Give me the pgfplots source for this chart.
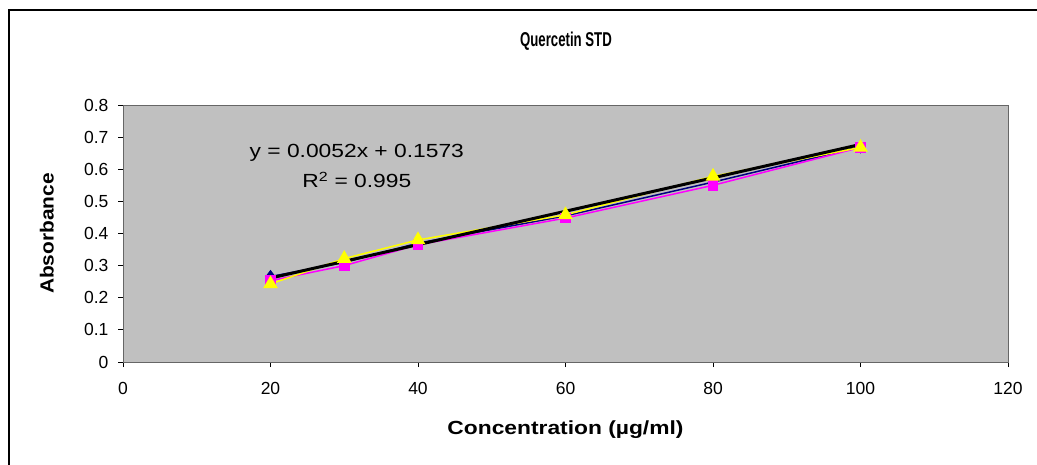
\documentclass[border=0pt]{standalone}
\usepackage{fontspec}
\setmainfont{Liberation Sans}
\usepackage{graphicx}
\usepackage{pgfplots}
\pgfplotsset{compat=1.18}
\definecolor{plotgray}{RGB}{192,192,192}
\definecolor{navyblue}{RGB}{0,0,128}
\definecolor{pinkmag}{RGB}{255,0,255}
\definecolor{yel}{RGB}{255,255,0}
\begin{document}
\begin{tikzpicture}[x=1pt,y=1pt]
\useasboundingbox (0,0) rectangle (1037,464);
\begin{scope}
\clip (0,0) rectangle (1037,464);
\fill[white] (0,0) rectangle (1037,464);
\draw[line width=2pt] (9,-20) rectangle (1060,454);
\end{scope}
\node[font=\bfseries\fontsize{20}{22}\selectfont] at (566,423) {\scalebox{0.66}[1]{Quercetin STD}};
\begin{axis}[at={(123pt,102pt)}, anchor=south west, scale only axis,
  width=885pt, height=257pt,
  xmin=0, xmax=120, ymin=0, ymax=0.8,
  xtick={0,20,40,60,80,100,120},
  ytick={0,0.1,0.2,0.3,0.4,0.5,0.6,0.7,0.8},
  yticklabels={0,0.1,0.2,0.3,0.4,0.5,0.6,0.7,0.8},
  axis background/.style={fill=plotgray},
  axis line style={draw=gray!80!black, line width=1pt},
  tick align=outside, xtick pos=bottom, ytick pos=left,
  major tick length=5pt,
  tick style={black, line width=0.8pt},
  /pgf/number format/assume math mode=true,
  ticklabel style={font=\fontsize{17.5}{20}\selectfont},
  xticklabel style={yshift=-12pt},
  yticklabel style={xshift=-6pt},
  xlabel={\scalebox{1.2}[1]{Concentration (µg/ml)}},
  ylabel={\scalebox{1.1}[1]{Absorbance}},
  label style={font=\bfseries\fontsize{19}{21}\selectfont},
  xlabel style={at={(axis description cs:0.5,-0.265)}, anchor=center},
  ylabel style={at={(axis description cs:-0.086,0.5)}, anchor=center},
  clip=false,
]
\addplot[navyblue, line width=1.5pt, mark=diamond*, mark size=5.5pt, mark options={fill=navyblue}]
  coordinates {(20,0.266)(30,0.31)(40,0.37)(60,0.455)(80,0.56)(100,0.67)};
\addplot[pinkmag, line width=1.5pt, mark=square*, mark size=4.5pt, mark options={fill=pinkmag}]
  coordinates {(20,0.253)(30,0.30)(40,0.365)(60,0.448)(80,0.55)(100,0.668)};
\addplot[yel, line width=1.5pt, mark=triangle*, mark size=7pt, mark options={fill=yel}]
  coordinates {(20,0.243)(30,0.322)(40,0.38)(60,0.458)(80,0.578)(100,0.668)};
\addplot[black, line width=3pt, no marks]
  coordinates {(20,0.2613)(100,0.6773)};
\node[font=\fontsize{19}{21}\selectfont] at (axis cs:31.7,0.65) {\scalebox{1.2}[1]{y = 0.0052x + 0.1573}};
\node[font=\fontsize{19}{21}\selectfont] at (axis cs:31.7,0.567) {\scalebox{1.2}[1]{R\textsuperscript{2} = 0.995}};
\end{axis}
\end{tikzpicture}
\end{document}
